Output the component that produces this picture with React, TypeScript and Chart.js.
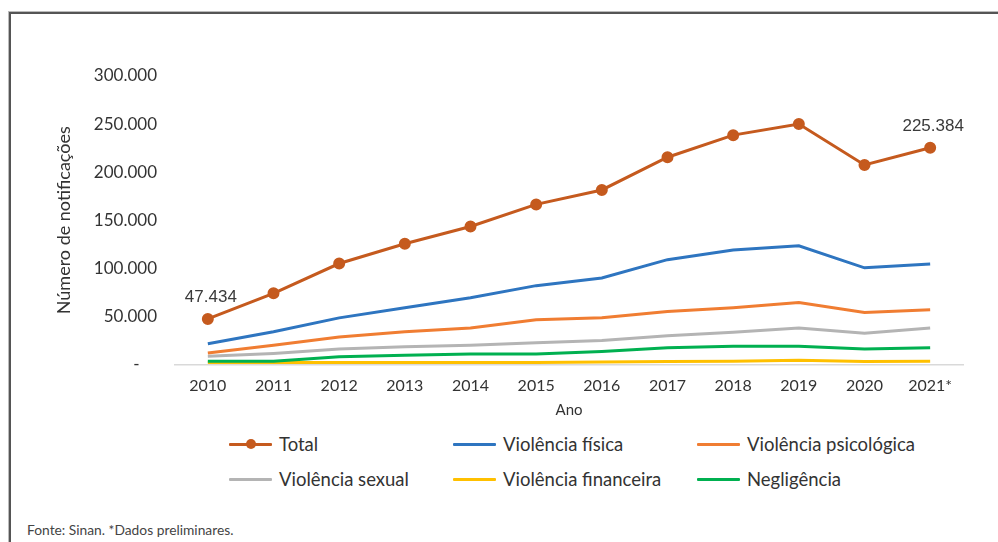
import React, { useEffect, useRef } from "react";
import { Chart, registerables } from "chart.js";

Chart.register(...registerables);

const years = ["2010", "2011", "2012", "2013", "2014", "2015", "2016", "2017", "2018", "2019", "2020", "2021*"];
const total = [47434, 74000, 105000, 125500, 143500, 166500, 181500, 215500, 238500, 250000, 207500, 225384];
const fisica = [21500, 34000, 48500, 59000, 69500, 82000, 90000, 109000, 119000, 123500, 100500, 104500];
const psicologica = [12000, 20000, 28500, 34000, 38000, 46500, 48500, 55000, 59000, 64500, 54000, 57000];
const sexual = [8500, 11500, 16000, 18500, 20000, 22500, 25000, 30000, 33500, 38000, 32500, 38000];
const financeira = [2000, 2000, 2000, 2000, 2000, 2000, 2500, 3000, 3500, 4500, 3000, 3500];
const negligencia = [3500, 3500, 8000, 9500, 11000, 11000, 13500, 17500, 19000, 19000, 16000, 17500];
const labelledIdx = [0, 11];

const C_TOTAL = "#C55A1E";
const C_FIS = "#2E75C0";
const C_PSI = "#F07D32";
const C_SEX = "#B4B4B4";
const C_FIN = "#FFC000";
const C_NEG = "#00B050";

const legendItems = [
  { label: "Total", color: C_TOTAL, dot: true, x: 229, y: 444 },
  { label: "Violência física", color: C_FIS, dot: false, x: 453, y: 444 },
  { label: "Violência psicológica", color: C_PSI, dot: false, x: 697, y: 444 },
  { label: "Violência sexual", color: C_SEX, dot: false, x: 229, y: 479 },
  { label: "Violência financeira", color: C_FIN, dot: false, x: 453, y: 479 },
  { label: "Negligência", color: C_NEG, dot: false, x: 697, y: 479 },
];

function fmt(v: number): string {
  if (v === 0) return "-    ";
  const k = Math.round(v / 1000);
  return k + ".000";
}

const dataLabelPlugin = {
  id: "dataLabels",
  afterDatasetsDraw(chart: any) {
    const meta = chart.getDatasetMeta(0);
    const ctx = chart.ctx;
    ctx.save();
    ctx.font = "17px 'Liberation Sans', Arial, sans-serif";
    ctx.fillStyle = "#3a3a3a";
    ctx.textAlign = "center";
    ctx.textBaseline = "alphabetic";
    labelledIdx.forEach((i) => {
      const pt = meta.data[i];
      const v = total[i];
      const s = Math.floor(v / 1000) + "." + String(v % 1000).padStart(3, "0");
      ctx.fillText(s, pt.x + 3, pt.y - 17);
    });
    ctx.restore();
  },
};

export default function App() {
  const ref = useRef<HTMLCanvasElement | null>(null);

  useEffect(() => {
    if (!ref.current) return;
    const line = (label: string, data: number[], color: string) => ({
      label,
      data,
      borderColor: color,
      backgroundColor: color,
      borderWidth: 3,
      pointRadius: 0,
      pointHoverRadius: 0,
      tension: 0,
      fill: false,
    });
    const chart = new Chart(ref.current, {
      type: "line",
      data: {
        labels: years,
        datasets: [
          {
            ...line("Total", total, C_TOTAL),
            pointRadius: 4.5,
            pointBackgroundColor: C_TOTAL,
            pointBorderColor: C_TOTAL,
            order: 0,
          },
          { ...line("Violência física", fisica, C_FIS), order: 1 },
          { ...line("Violência psicológica", psicologica, C_PSI), order: 2 },
          { ...line("Violência sexual", sexual, C_SEX), order: 3 },
          { ...line("Violência financeira", financeira, C_FIN), order: 5 },
          { ...line("Negligência", negligencia, C_NEG), order: 4 },
        ],
      },
      options: {
        animation: false,
        responsive: false,
        maintainAspectRatio: false,
        layout: { padding: { left: 0, right: 35, top: 76, bottom: 0 } },
        plugins: {
          legend: { display: false },
          tooltip: { enabled: false },
        },
        scales: {
          x: {
            offset: true,
            grid: { display: false, drawTicks: false },
            border: { display: true, color: "#d9d9d9", width: 1.5 },
            ticks: {
              color: "#333",
              padding: 12,
              maxRotation: 0,
              autoSkip: false,
              font: { family: "Lato", size: 16 },
            },
            title: {
              display: true,
              text: "Ano",
              color: "#333",
              font: { family: "Lato", size: 15 },
              padding: { top: 0, bottom: 1 },
            },
            afterFit(scale: any) {
              scale.height = 55.5;
            },
          },
          y: {
            min: 0,
            max: 300000,
            grid: { display: false, drawTicks: false },
            border: { display: false },
            ticks: {
              stepSize: 50000,
              color: "#333",
              padding: 18,
              font: { family: "Lato", size: 17 },
              callback: (v: any) => fmt(Number(v)),
            },
            title: {
              display: true,
              text: "Número de notificações",
              color: "#333",
              font: { family: "Lato", size: 18 },
              padding: { top: 53, bottom: 0 },
            },
            afterFit(scale: any) {
              scale.width = 175;
            },
          },
        },
      },
      plugins: [dataLabelPlugin],
    } as any);
    return () => chart.destroy();
  }, []);

  return (
    <div
      style={{
        position: "fixed",
        left: 0,
        top: 0,
        width: 998,
        height: 542,
        overflow: "hidden",
        background: "#fff",
        fontFamily: "Lato, sans-serif",
      }}
    >
      <div
        style={{
          position: "absolute",
          left: 9,
          top: 12,
          width: 1100,
          height: 700,
          borderLeft: "2px solid #555",
          borderTop: "2px solid #555",
          boxShadow: "-1px -1px 0 #bbb",
        }}
      />
      <canvas ref={ref} width={998} height={420} style={{ position: "absolute", left: 0, top: 0, width: 998, height: 420 }} />
      {legendItems.map((it) => (
        <div key={it.label} style={{ position: "absolute", left: it.x, top: it.y - 10, height: 20, display: "flex", alignItems: "center" }}>
          <div style={{ position: "relative", width: 43, height: 3, background: it.color, borderRadius: 1 }}>
            {it.dot && (
              <div
                style={{
                  position: "absolute",
                  left: 17,
                  top: -3.5,
                  width: 10,
                  height: 10,
                  borderRadius: 5,
                  background: it.color,
                }}
              />
            )}
          </div>
          <span style={{ marginLeft: 7, fontSize: 18.5, color: "#333", whiteSpace: "nowrap" }}>{it.label}</span>
        </div>
      ))}
      <div style={{ position: "absolute", left: 27, top: 521, fontSize: 13.8, color: "#444", whiteSpace: "nowrap" }}>
        Fonte: Sinan. *Dados preliminares.
      </div>
    </div>
  );
}
